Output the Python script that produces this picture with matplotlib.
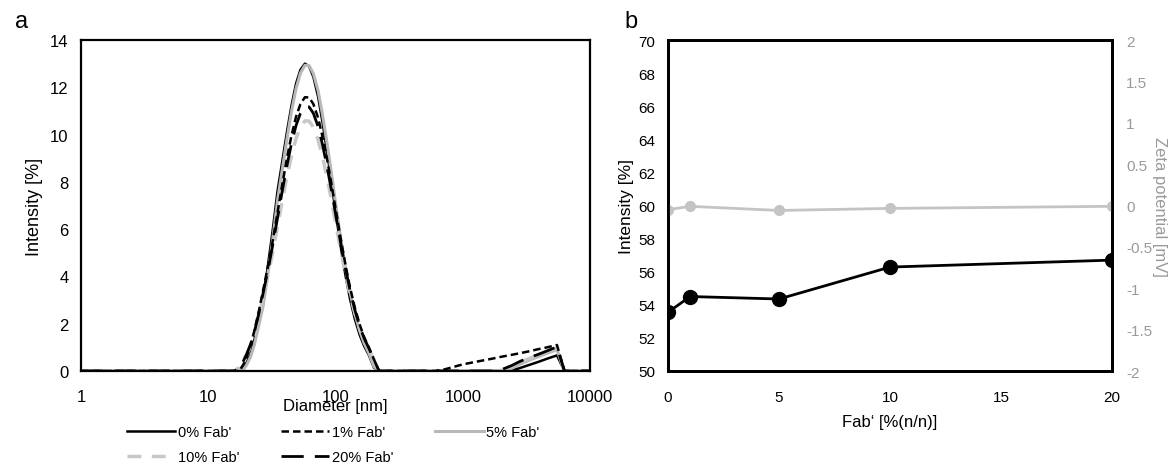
import matplotlib
matplotlib.use('Agg')
import matplotlib.pyplot as plt
from matplotlib.ticker import FixedLocator, FuncFormatter, NullLocator

plt.rcParams['font.family'] = ['Liberation Sans', 'DejaVu Sans']
plt.rcParams['axes.unicode_minus'] = False

# panel a: size distribution (diameter in nm, intensity in %)
diameter = [1, 16, 17.5, 18.8, 20, 21.5, 23, 25, 27, 29.5, 32, 35, 38, 41.5, 45, 49, 53, 57.5,
            62, 67, 73, 79, 86, 93, 101, 110, 120, 130, 142, 155, 168, 182, 200, 220,
            600, 700, 1000, 1300, 1700, 2000, 2400, 2800, 3300, 3900, 4600, 5500, 6300, 10000]
fab0 = [0, 0, 0, 0.1, 0.35, 0.7, 1.3, 2.2, 3.0, 4.5, 5.9, 7.6, 8.8, 10.1, 11.2, 12.16, 12.74, 13.0,
        12.89, 12.44, 11.6, 10.53, 9.25, 7.96, 6.59, 5.25, 4.02, 3.05, 2.19, 1.52, 1.05, 0.7, 0.15, 0,
        0, 0, 0, 0, 0, 0, 0.02, 0.12, 0.25, 0.38, 0.52, 0.66, 0, 0]
fab1 = [0, 0, 0, 0.26, 0.57, 1.07, 1.69, 2.54, 3.42, 4.44, 5.46, 6.69, 7.83, 8.99, 9.94, 10.76, 11.29, 11.58,
        11.57, 11.29, 10.71, 9.92, 8.93, 7.90, 6.75, 5.58, 4.47, 3.54, 2.67, 1.96, 1.43, 1.02, 0.5, 0,
        0, 0.05, 0.28, 0.40, 0.52, 0.60, 0.68, 0.75, 0.83, 0.92, 1.0, 1.1, 0, 0]
fab5 = [0, 0, 0, 0.05, 0.25, 0.6, 1.1, 1.95, 2.75, 4.15, 5.5, 7.2, 8.45, 9.8, 10.95, 11.95, 12.6, 12.93,
        12.92, 12.58, 11.85, 10.85, 9.6, 8.35, 6.95, 5.6, 4.35, 3.35, 2.42, 1.7, 1.17, 0.78, 0.2, 0,
        0, 0, 0, 0, 0, 0, 0.1, 0.28, 0.45, 0.6, 0.75, 0.9, 0, 0]
fab10 = [0, 0, 0.15, 0.45, 0.7, 1.1, 1.55, 2.32, 3.12, 4.05, 4.99, 6.11, 7.16, 8.22, 9.08, 9.84, 10.32, 10.58,
         10.57, 10.32, 9.78, 9.06, 8.16, 7.22, 6.17, 5.10, 4.08, 3.23, 2.44, 1.79, 1.31, 0.93, 0.5, 0,
         0, 0, 0, 0, 0, 0.02, 0.18, 0.35, 0.52, 0.67, 0.82, 0.98, 0, 0]
fab20 = [0, 0, 0.1, 0.4, 0.7, 1.13, 1.63, 2.45, 3.30, 4.28, 5.28, 6.46, 7.56, 8.68, 9.60, 10.39, 10.90, 11.18,
         11.17, 10.90, 10.34, 9.58, 8.62, 7.63, 6.52, 5.39, 4.31, 3.42, 2.58, 1.89, 1.38, 0.99, 0.5, 0,
         0, 0, 0, 0, 0, 0.05, 0.22, 0.4, 0.56, 0.7, 0.85, 1.02, 0, 0]

# panel b
fab_ratio = [0, 1, 5, 10, 20]
intensity = [53.55, 54.5, 54.35, 56.28, 56.7]
zeta = [-0.05, -0.01, -0.06, -0.035, -0.01]

grey = '#b8b8b8'
fig = plt.figure(figsize=(11.76, 4.64), dpi=100)

# ---- panel a ----
ax = fig.add_axes([81/1176, 92/464, 509/1176, 331/464])
l0, = ax.plot(diameter, fab0, color='black', lw=1.8, label="0% Fab'")
l5, = ax.plot(diameter, fab5, color=grey, lw=2.2, label="5% Fab'")
l10, = ax.plot(diameter, fab10, color='#c8c8c8', lw=2.5, dashes=(4, 3), label="10% Fab'")
l1, = ax.plot(diameter, fab1, color='black', lw=1.8, dashes=(3, 1.6), label="1% Fab'")
l20, = ax.plot(diameter, fab20, color='black', lw=2.0, dashes=(8, 4), label="20% Fab'")
ax.set_xscale('log')
ax.set_xlim(1, 10000)
ax.set_ylim(0, 14)
ax.xaxis.set_major_locator(FixedLocator([1, 10, 100, 1000, 10000]))
ax.xaxis.set_minor_locator(NullLocator())
ax.xaxis.set_major_formatter(FuncFormatter(lambda v, p: '%d' % v))
ax.set_yticks(range(0, 15, 2))
ax.tick_params(length=0, labelsize=12, pad=9)
ax.tick_params(axis='x', pad=13)
for s in ax.spines.values():
    s.set_linewidth(1.6)
ax.set_xlabel('Diameter [nm]', fontsize=12, labelpad=-4)
ax.set_ylabel('Intensity [%]', fontsize=13, labelpad=5)
ax.legend([l0, l10, l1, l20, l5], ["0% Fab'", "10% Fab'", "1% Fab'", "20% Fab'", "5% Fab'"],
          ncol=3, frameon=False, loc='upper left', bbox_to_anchor=(0.065, -0.125),
          handlelength=3.3, handletextpad=0.15, columnspacing=2.9, labelspacing=0.75, fontsize=10.5)
fig.text(15/1176, 1 - 22/464, 'a', fontsize=17, va='center')

# ---- panel b ----
bx = fig.add_axes([668/1176, 92/464, 444/1176, 331/464])
bx.plot(fab_ratio, intensity, color='black', lw=2, marker='o', markersize=10, zorder=3)
bx.set_xlim(0, 20)
bx.set_ylim(50, 70)
bx.set_xticks([0, 5, 10, 15, 20])
bx.set_yticks(range(50, 71, 2))
bx.tick_params(length=0, labelsize=11, pad=9)
bx.tick_params(axis='x', pad=14)
for s in bx.spines.values():
    s.set_linewidth(2)
bx.set_xlabel('Fab\u2018 [%(n/n)]', fontsize=12, labelpad=7)
bx.set_ylabel('Intensity [%]', fontsize=12.5, labelpad=3)

bx2 = bx.twinx()
bx2.plot(fab_ratio, zeta, color='#c4c4c4', lw=2, marker='o', markersize=7, zorder=2)
bx2.set_ylim(-2, 2)
bx2.set_yticks([-2, -1.5, -1, -0.5, 0, 0.5, 1, 1.5, 2])
bx2.yaxis.set_major_formatter(FuncFormatter(lambda v, p: '%g' % v))
bx2.tick_params(length=0, labelsize=11, pad=10, labelcolor='#9a9a9a')
for s in bx2.spines.values():
    s.set_linewidth(2)
bx2.set_ylabel('Zeta potential [mV]', fontsize=12, color='#9a9a9a', rotation=270, labelpad=11)
fig.text(624/1176, 1 - 22/464, 'b', fontsize=17, va='center')

fig.savefig('out.png', dpi=100)
